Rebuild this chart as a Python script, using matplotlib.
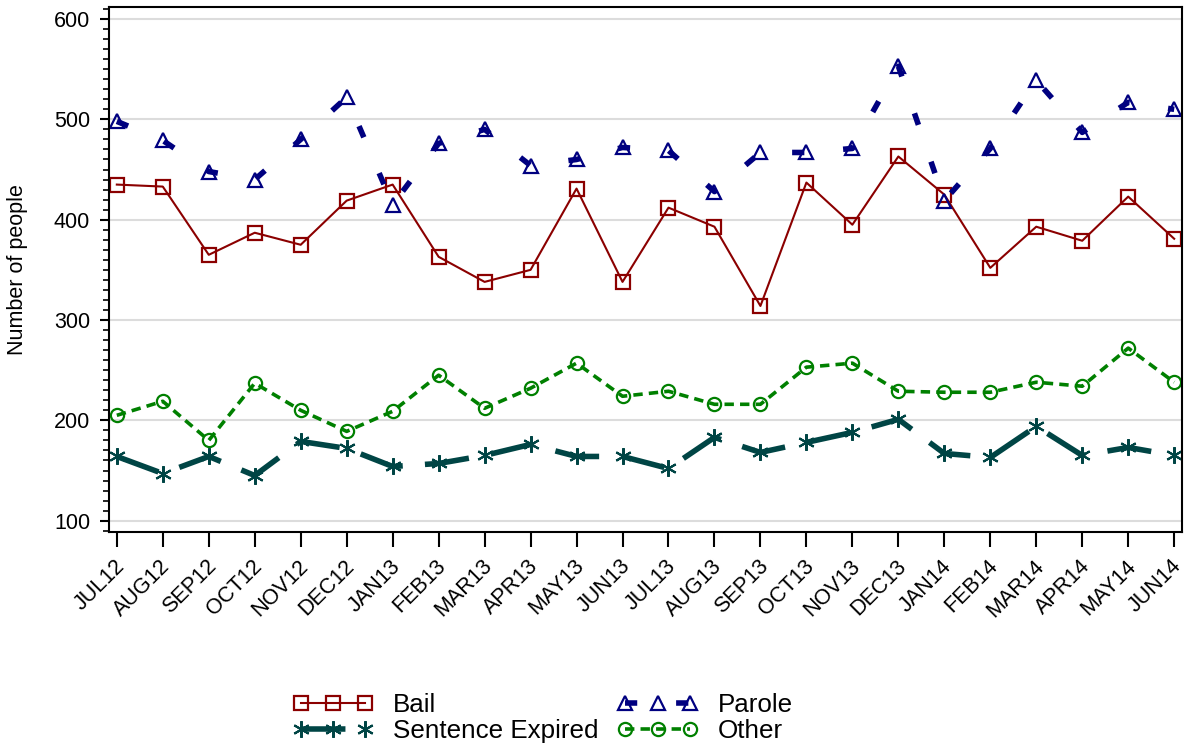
import matplotlib
matplotlib.use("Agg")
import matplotlib.pyplot as plt
from matplotlib.ticker import MultipleLocator
from matplotlib.transforms import ScaledTranslation
import numpy as np

plt.rcParams['font.family'] = ['Liberation Sans', 'DejaVu Sans']

months = ["JUL12", "AUG12", "SEP12", "OCT12", "NOV12", "DEC12", "JAN13", "FEB13",
          "MAR13", "APR13", "MAY13", "JUN13", "JUL13", "AUG13", "SEP13", "OCT13",
          "NOV13", "DEC13", "JAN14", "FEB14", "MAR14", "APR14", "MAY14", "JUN14"]

bail = [435, 433, 365, 387, 375, 419, 435, 363, 338, 350, 431, 338,
        412, 393, 314, 437, 395, 463, 425, 352, 393, 379, 423, 381]
parole = [498, 479, 448, 440, 480, 522, 415, 476, 490, 454, 460, 472,
          469, 428, 467, 467, 471, 553, 419, 471, 539, 487, 517, 510]
sentence_expired = [164, 147, 164, 145, 179, 172, 154, 157, 165, 176, 164, 164,
                    152, 183, 168, 178, 188, 201, 167, 163, 194, 165, 173, 165]
other = [205, 219, 180, 237, 210, 189, 209, 245, 212, 232, 257, 224,
         229, 216, 216, 253, 257, 229, 228, 228, 238, 234, 272, 238]

fig = plt.figure(figsize=(11.85, 7.46), dpi=100)
ax = fig.add_axes([109/1185, 1-532/746, (1182-109)/1185, (532-7)/746])

x = np.arange(len(months))

l_bail, = ax.plot(x, bail, color='#8B0000', lw=1.5, marker='s', ms=9.5,
                  mfc='none', mec='#8B0000', mew=1.6, label='Bail')
l_par, = ax.plot(x, parole, color='#000080', lw=4.0, dashes=(2.2, 7.0),
                 marker='^', ms=10.5, mfc='none', mec='#000080', mew=1.6,
                 label='Parole')
l_se, = ax.plot(x, sentence_expired, color='#004545', lw=4.0, dashes=(8.0, 4.0),
                marker=(6, 2, 0), ms=12, mec='#004545', mew=1.5,
                label='Sentence Expired')
l_oth, = ax.plot(x, other, color='#008000', lw=2.6, dashes=(2.6, 1.7),
                 marker='o', ms=9.5, mfc='none', mec='#008000', mew=1.6,
                 label='Other')

ax.set_xlim(-0.17, 23.17)
ax.set_ylim(88.7, 612)
ax.yaxis.set_major_locator(MultipleLocator(100))
ax.yaxis.set_minor_locator(MultipleLocator(10))
ax.set_xticks(x)
ax.set_xticklabels(months, rotation=45, ha='right', rotation_mode='anchor',
                   fontsize=15.5)
ax.tick_params(axis='y', which='major', length=6.5, width=1.5, labelsize=15.5, pad=7)
ax.tick_params(axis='y', which='minor', length=4, width=1.2)
ax.tick_params(axis='x', which='major', length=11, width=1.5, pad=6)
shift = ScaledTranslation(-3/100, 0, fig.dpi_scale_trans)
for lbl in ax.get_xticklabels():
    lbl.set_transform(lbl.get_transform() + shift)
ax.grid(axis='y', which='major', color='#DCDCDC', lw=1.5)
ax.set_axisbelow(True)
for s in ax.spines.values():
    s.set_linewidth(1.5)
ax.set_ylabel('Number of people', fontsize=15.5, labelpad=19)

leg = fig.legend(handles=[l_bail, l_se, l_par, l_oth],
                 labels=['Bail', 'Sentence Expired', 'Parole', 'Other'],
                 ncol=2, loc='center', bbox_to_anchor=(543/1185, 1-718/746),
                 frameon=False, fontsize=18.7, numpoints=3, handlelength=3.08,
                 handletextpad=0.77, columnspacing=0.73, labelspacing=0.05)

fig.savefig('out.png', dpi=100)
